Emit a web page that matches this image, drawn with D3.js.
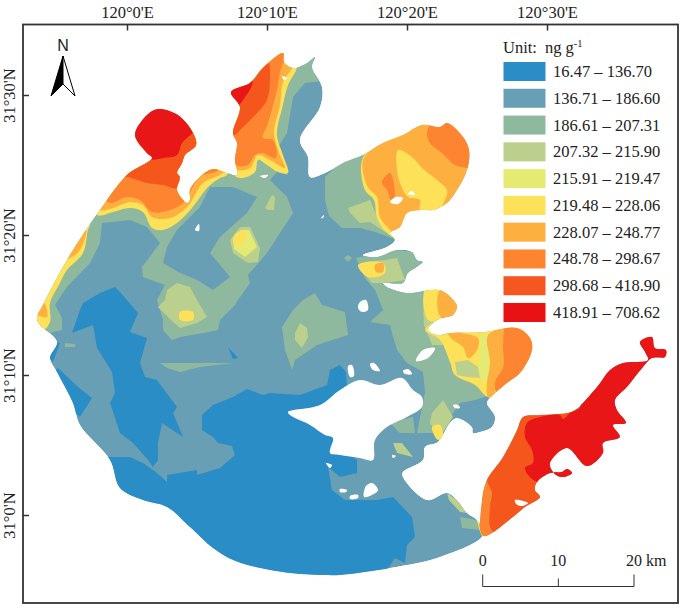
<!DOCTYPE html>
<html>
<head>
<meta charset="utf-8">
<script src="https://cdnjs.cloudflare.com/ajax/libs/d3/7.8.5/d3.min.js"></script>
<style>
  html, body { margin: 0; padding: 0; background: #fff; }
  svg { display: block; }
  text { font-family: "Liberation Serif", serif; fill: #222; }
</style>
</head>
<body>
<svg id="map" width="685" height="611"></svg>
<script>
// legend classes, ng g-1
var classLabels = ["16.47 – 136.70", "136.71 – 186.60", "186.61 – 207.31", "207.32 – 215.90", "215.91 – 219.47",
  "219.48 – 228.06", "228.07 – 248.77", "248.78 – 298.67", "298.68 – 418.90", "418.91 – 708.62"];
var classColors = ["#2b8dc5", "#679fb5", "#8fb99f", "#bbd08d", "#e4ea72", "#fde158", "#fdb03f", "#fd8530", "#f4571f", "#e81215"];

// graticule, minutes east of 120°E and north of 31°N
var lonTicks = [0, 10, 20, 30];
var lonLabels = ["120°0'E", "120°10'E", "120°20'E", "120°30'E"];
var latTicks = [0, 10, 20, 30];
var latLabels = ["31°0'N", "31°10'N", "31°20'N", "31°30'N"];
var kmTicks = [0, 10, 20];

// all outlines below are [minutes E, minutes N]
var lake = [[-6.43,13.93],[-5.93,15.14],[-4.29,18.21],[-2.79,20.57],[-1.93,21.79],[0,24.29],[1.79,25.5],[1.43,25.86],[.57,27.14],[1.43,28.57],[2.21,29],[3.64,28.57],[4.71,27.29],[4.93,26.43],[4.14,25.71],[3.93,25.14],[3.57,24.43],[3.79,24.14],[3.57,23.21],[4.29,22.29],[4.5,22.5],[4.5,23.21],[5.21,24.14],[6.14,24.71],[7.14,24.43],[7.86,24.29],[7.71,25.36],[7.86,26.57],[7.57,27.29],[8.07,29.14],[7.43,30.21],[8.79,30.86],[9.71,31.93],[11.14,33],[11.21,32.36],[11.86,31.93],[12.86,32.29],[13.43,32.71],[13.21,32],[13.93,30.57],[13.79,29.14],[12.36,26.79],[12.93,25.57],[13.07,24.14],[14.14,24.43],[15.57,25.21],[16.86,25.71],[18.29,26.57],[19.71,27.14],[21.07,27.86],[22.36,27.71],[22.86,28],[24,27],[24.43,26.07],[24.29,24.64],[23.57,23.21],[22.86,22.29],[21.86,21.79],[20.93,21.79],[20,21.57],[19.5,20.57],[18.79,20.14],[19.14,19.64],[18.57,19.14],[16.86,18.57],[17.86,18.43],[19.29,18.93],[20.36,18.79],[20.71,18.21],[21.14,18.07],[20.71,17.71],[20.07,17.29],[19.71,16.57],[18.29,16.57],[18.57,16.29],[20,15.86],[22.36,16.07],[23.43,15.21],[23.57,14.86],[23.29,14.29],[22.14,13.93],[21.5,13.21],[22.14,12.86],[23.07,13],[25.43,13.07],[27.86,13.36],[28.79,12.64],[28.93,11.79],[28.07,10.14],[27.14,9.43],[25.93,8.36],[25.71,8],[26.29,7],[26.07,6.29],[25.21,5.93],[24.71,5.86],[24.64,6.29],[23.57,6.93],[23.07,6.57],[22.21,5.21],[21.29,4.86],[21.14,3.93],[19.71,3.07],[19.71,2.71],[21.43,1.07],[22.86,1.57],[23.57,1.07],[24.29,.14],[25,-.36],[25.43,-1.43],[22.36,-3],[18.79,-3.79],[15.21,-4.29],[14.29,-4.29],[11.64,-4.14],[7.93,-3.36],[6.14,-2.36],[4.5,-.86],[2.86,.57],[1.14,1.07],[-.5,1.93],[-1.21,3.93],[-3.36,6.43],[-3.86,8],[-5,10.21],[-5.5,11.21],[-5,12.36]];
var peninsula = [[25.43,-1.5],[25.36,1.07],[25.71,2.5],[26.86,4.14],[27.86,6.07],[28.29,7],[29.5,7.14],[31.43,7.29],[32,7.5],[33.57,9.14],[34.5,10.36],[35.43,10.86],[37.21,11.07],[37,11.64],[36.64,12.36],[37.5,12.71],[37.71,11.93],[38.5,11.79],[38.43,11.29],[37.5,11.21],[36.86,10.57],[35.71,9.14],[34.86,8.21],[35,7.5],[35.64,6.57],[34.71,6.43],[35.21,5.57],[34,5.14],[34,4.43],[32.86,3.5],[31.43,4.79],[30.21,3.71],[30.43,3.07],[31.07,2.71],[31.79,3],[31.43,3.29],[31.07,3.07],[30.21,3],[29.29,2.36],[29.14,1.79],[29.5,1.29],[28.43,.57],[27.57,-.14]];

var islands = [
  [[11.5,7.36],[13.79,7.86],[15.21,8.93],[16.64,9.64],[18.07,9.29],[19.64,9.79],[20.43,8.93],[21.07,8.43],[21.07,7.71],[20,7],[18.57,6.29],[17.71,5.36],[17.57,3.93],[16.64,4.07],[15.21,4.29],[14.5,4.43],[14.71,5.5],[14.14,5.71],[13.07,6.43],[11.64,7.14]],
  [[16.64,15.21],[17.07,15.36],[17.21,14.64],[16.79,14.5],[16.5,14.79]],
  [[20.64,11],[21.14,11.79],[22,11.93],[21.5,11.21]],
  [[15.79,10.64],[16.07,10.71],[16.21,9.93],[15.93,9.86]],
  [[17.36,10.79],[17.64,10.86],[18.07,10.29],[17.57,10.36]],
  [[19.71,10.29],[20.07,10.43],[20.36,10.07],[19.86,10.07]],
  [[23.29,7.86],[23.64,7.86],[23.79,7.64],[23.43,7.64]],
  [[16.93,1.29],[17.07,2.07],[17.5,2.29],[17.93,1.79],[17.5,1.43]],
  [[15.21,1.86],[15.71,1.79],[15.64,1.64],[15.21,1.64]],
  [[15.93,1.36],[16.5,1.43],[16.5,1.21],[15.93,1.14]],
  [[27.71,1.07],[28.64,.86],[28.21,.64],[27.79,.79]],
  [[18.79,22.36],[19.21,22.71],[19.71,22.64],[19.36,22.21]],
  [[20.07,22.93],[20.36,23.14],[20.57,22.86]],
  [[4.86,20.36],[5.14,20.79],[5.14,20.29]],
  [[13.86,21.21],[14.07,21.43],[14,21.21]],
  [[11.07,31.36],[11.43,31.21],[11.21,31.07]],
  [[9.5,24.21],[10.07,24.29],[9.86,24.07]],
  [[14.21,3.71],[14.64,3.57],[14.5,3.36]],
  [[18.93,4.29],[19.21,4.21],[19,4.07]]
];

var band1 = [
  [[-1.93,4.14],[.21,4.14],[1.14,3.71],[2.14,3],[2.86,2.36],[2.86,2.86],[5,3.21],[5,2.86],[6.64,3.36],[7.71,4.29],[7.5,4.93],[6.5,5.14],[6.14,5.57],[5.36,6.07],[5.36,7.14],[6.14,7.86],[7.57,8.43],[8.57,9],[9.71,8.57],[10.21,8.71],[12.36,8.57],[14.29,9.29],[14.5,10.36],[15.21,10.71],[15.64,10.21],[15.71,9.29],[15.57,6.79],[15.93,4.29],[16.43,3.93],[16.43,3],[15.21,2.71],[14.36,3.43],[14.64,1.79],[15.57,1.07],[17.86,1.07],[19,1.29],[20.36,-.14],[20.57,-1.57],[20,-2.14],[19.86,-3.43],[19.14,-3.07],[18.57,-3.93],[15.21,-5.36],[-1.93,-5.36]],
  [[-3.93,13],[-3.36,14.64],[-3.14,15.14],[-1.93,15.86],[-.86,16.29],[-.5,15.93],[.79,14.43],[.21,13.07],[1.43,12.64],[.93,10.86],[1.29,9.86],[2.14,9.64],[3.57,7.71],[3.29,7.29],[4,5.57],[2.5,6.57],[2.21,5.14],[2.21,3.93],[1.86,3.43],[1.5,3.93],[.43,5.14],[-.5,5.86],[-1.21,8],[-.86,8.71],[-1.07,10.21],[-2.14,11.93],[-2.43,13.57]],
  [[-4.93,10.5],[-3.5,9.14],[-2.5,8.36],[-3.36,7],[-4.79,8.21],[-5.5,10]],
  [[-5.14,12.36],[-4.79,12.29],[-5.29,10.93],[-5.64,11.29]],
  [[7.21,12],[7.93,11.21],[7.57,11.14]]
];
var band3 = [
  [[-4.64,13.21],[-4.64,14.07],[-5.14,15],[-4.29,16.29],[-2.64,18],[-1.93,19.43],[-1.79,20.86],[.21,21.07],[1.43,20.57],[2.36,19.43],[1.07,17.71],[1.14,17],[2.71,16.43],[2.14,15.36],[2.57,13.93],[2.57,13.21],[3.21,12.5],[3.79,12.71],[5.43,13],[6.5,13.21],[6.64,13.93],[7.71,15],[7.93,15.36],[8.79,16.57],[8.64,17.14],[10,18.71],[11.86,21.57],[11.43,22.71],[10.21,23.93],[10.71,24.5],[11.5,24.29],[10.93,25.36],[10.79,26.29],[11.43,27.29],[11.86,29.86],[12.71,30.86],[14.5,31.07],[14.5,33.93],[-7.64,33.93],[-7.64,12.5]],
  [[11.07,13.43],[11.86,14.64],[12.57,15.36],[13.43,15.86],[13.93,15],[15.57,14.5],[15.79,12.86],[13.57,12.14],[12,11.07],[11.79,10.36],[11.29,11.79]],
  [[2.36,10.86],[7.57,10.86],[5.21,10.57],[3.79,10.21],[2.86,10.5]],
  [[-4.43,12.29],[-3.71,12.21],[-3.71,12],[-4.43,12]],
  [[15.57,25.5],[14.14,24.14],[14.14,22.5],[14.43,21.36],[15.36,20.5],[16.64,20.5],[17.71,20.21],[18.93,19.79],[19.5,19.79],[19.5,22.5],[18.43,26.79]],
  [[15.79,18.57],[16.07,18.36],[15.79,18.07],[15.5,18.36]],
  [[16.36,18.36],[19.14,18.93],[20.57,18.79],[21.14,18.07],[20.21,17.29],[20.07,15.93],[19.14,15.71],[17.71,16.07],[17,16.93]],
  [[17.64,16.29],[18.29,14.64],[17.36,13.79],[18.79,13.57],[18.93,13],[19.29,11.79],[20,10.86],[21.14,10.21],[21.29,8.79],[20.71,5.86],[21.86,5.86],[22.36,6.43],[23.21,7.14],[23.79,8],[24.86,8.21],[25.93,8.57],[25.21,10.36],[23.43,11.79],[22.36,13.93],[21.86,16.07]],
  [[18.79,6.57],[20.43,7],[20.57,5.86],[19.5,5.86]],
  [[23.79,-.14],[25,-.36],[25.21,-1.07],[23.93,-.93]]
];
// patches of the second class lying inside the third
var band2Over = [
  [[5.93,23.43],[7.57,23.43],[9.29,22.71],[8.57,21.57],[6.64,19.86],[5.93,18.71],[7.36,17],[6.14,16.07],[5,16.79],[3.79,17.29],[2.57,18],[2.86,19.14],[3.57,20.36],[5.21,22]],
  [[23.79,8],[24.71,8.07],[25.43,7.5],[25.71,6.64],[25.43,6.07],[24.86,5.86],[24.64,6.29],[23.43,6.93]]
];
var band4 = [
  [[2.86,16.07],[3.57,16.57],[4.5,16.29],[5,15.36],[5.71,14.14],[5,13.71],[3.79,13.36],[3.29,13.79],[2.21,14.86],[2.71,15.36]],
  [[7.36,19.64],[8.07,20.57],[8.79,20.57],[9.5,19.07],[9.36,18.07],[8.64,18],[7.57,18.71]],
  [[9.86,21.93],[10.36,22.86],[10.57,22.71],[10.5,21.79],[10.07,21.79]],
  [[12,13],[12.36,13.71],[12.86,13.36],[12.93,12.71],[12.5,11.93],[12,12.5]],
  [[15.79,21.93],[16.79,22.29],[17.36,22.5],[17.86,21.29],[18.64,20.57],[18.43,20.21],[17.36,20.93],[16.64,20.86],[15.93,21.57]],
  [[16.93,18.07],[18.43,18.21],[19.29,18.36],[19.86,16.79],[18.43,16.57],[17.5,16.57],[17,17.14]],
  [[21.14,15.36],[21.21,13.57],[21.79,12.14],[22.71,12.14],[22.36,13.93],[21.86,15.36]],
  [[21.79,7.29],[22.57,8.21],[23.29,7],[22.36,5.57],[21.64,6.57]],
  [[19,5.14],[19.64,5.14],[20.43,4.14],[19.29,4.43]],
  [[22.86,1.57],[23.57,1.07],[24.29,.14],[23.79,.21],[23,1.07]]
];
var band5 = [
  [[7.57,19.64],[8.14,20.36],[8.71,20.36],[9.29,19.14],[8.43,18.43],[7.64,19]]
];
var band6 = [
  [[-2.79,20.36],[-3.14,18.71],[-4.29,17.5],[-4.79,16.57],[-5.5,15.14],[-5.5,13.79],[-6,13.21],[-6.93,13.93],[-5.5,18.93],[-2.64,20.71]],
  [[-2.14,21.43],[-1,21.64],[.21,21.93],[1.14,21.64],[1.79,20.5],[2.57,20.36],[3.57,20.86],[4.64,21.93],[5.79,23.43],[6.64,24.07],[7.14,24.29],[7.36,25],[3.71,28.21],[-2.64,23.93]],
  [[12.14,32.14],[11.5,30.71],[11.14,29.29],[10.71,27.14],[11.14,25.71],[11.5,24.43],[10.79,24.5],[10,25],[9.36,25.36],[9.14,24.5],[8.07,24.07],[7.36,24.64],[7.36,32.5],[11.29,33.21]],
  [[3.79,14.5],[4.71,14.5],[4.71,13.93],[3.79,13.93]],
  [[7.57,19.79],[8.07,20.29],[8.5,20.21],[8.29,19.43],[7.71,19.29]],
  [[18.07,26.79],[16.79,25.36],[17,23.21],[17.64,22.5],[17.86,21.21],[18.5,20.21],[19.5,19.64],[20.93,20.71],[20.93,27.5]],
  [[16.5,17.86],[18.29,18],[18.43,17.29],[17.21,17]],
  [[21.29,16.07],[22.36,16.07],[22.36,13.93],[21.5,13.93]],
  [[21.29,13.21],[22.36,12.5],[23.07,10.93],[23.43,10],[24.86,9.29],[25.93,8.36],[29.5,8.93],[29.5,13.93],[22.36,13.93]],
  [[21.79,6.29],[22.36,6.43],[22.57,5.57],[22.21,5.36]],
  [[25,-.36],[25.64,-1.5],[25.43,-1.57]]
];
// stripes and patches lying on top of the yellow lobe
var band5Over = [
  [[25.21,12.86],[25.79,13],[25.93,11.43],[25.93,10],[25.43,9.29],[25.07,10.57],[25.21,11.79]]
];
var band4Over = [
  [[23.43,10.93],[24.36,11.07],[25.07,10.57],[25.21,9.79],[24.29,9.86],[23.57,10]]
];
var band7 = [
  [[-1.93,21.79],[-1,21.93],[.21,22.36],[1.14,22.14],[1.79,21.29],[3.07,21.21],[4.29,22],[5.43,23.71],[6.64,24.29],[7,24.64],[3.71,28.21],[-2.64,23.21]],
  [[-2.93,20.36],[-3.36,18.93],[-3.93,18.43],[-4.79,18.21],[-3.36,20.5]],
  [[-5.93,15.14],[-5.71,14.14],[-6.21,14.21],[-6.64,14.64]],
  [[11.86,32.14],[11.14,30.93],[10.93,29.29],[10.5,27.29],[10.93,25.71],[11.29,24.79],[10.21,25.36],[9.36,25.71],[8.79,24.79],[7.86,24.64],[7.36,25],[7.36,32.5],[11.29,33.21]],
  [[18.29,26.79],[16.86,25.36],[17.21,23.43],[17.86,22.71],[18.07,21.29],[18.79,20.36],[19.14,20],[20.93,21.07],[25,22.5],[25,28.93],[20.93,28.93]],
  [[17.71,17.86],[18.29,18],[18.29,17.36],[17.79,17.36]],
  [[22.36,16.07],[23.64,15.36],[23.64,14.07],[22.36,14.21]],
  [[22.93,13],[25.07,12.64],[25,11.79],[24.36,11.21],[24,12],[23.29,12.5]],
  [[25.79,12.86],[27.21,13.36],[26.86,12.14],[26.86,10.57],[26.29,9.43],[26.29,8.57],[25.79,8.43],[25.71,9.43],[25.93,10.86]]
];
// yellow heart of the north-east lobe
var band6Over = [
  [[19.36,26.07],[20.36,25.57],[21.07,24.79],[22.14,23.93],[22.86,23.21],[22.71,22.5],[22,21.43],[20.93,21.79],[20.93,22.5],[20.07,22.71],[19.5,23.71],[19.29,24.64]]
];
var band8 = [
  [[-1.21,22.29],[0,22.71],[.93,22.5],[1.79,21.64],[3.07,21.79],[4,22.29],[5.21,24.14],[6.5,24.64],[6.29,25.36],[3.71,28.21],[-1.93,23.21]],
  [[11.29,33.21],[10.93,31.64],[10.71,30.36],[10.07,28],[9.71,26.93],[10.43,26.79],[10.64,25.5],[9.64,25.86],[9.14,25.71],[8.64,25],[7.79,25],[7.36,27.5],[7.36,32.5]],
  [[18.21,23.79],[18.79,24.43],[19.14,23],[18.93,22.36],[18.57,23.21]],
  [[21.43,27.36],[22,28.21],[24.86,27.86],[24.86,24.64],[24.29,24.79],[23.43,25],[22.5,25.86],[21.64,26.57]],
  [[27.14,13.57],[29.5,13.57],[29.5,10.36],[27.36,8.57],[26.43,8.71],[26.29,9.5],[26.86,10.57],[26.86,12.14]],
  [[25.43,-1.5],[25.14,1.07],[25.71,2.64],[26.07,1.57],[25.93,.57],[26.14,-1.21]]
];
var band9 = [
  [[-.5,24.07],[0,24.14],[1.43,23.71],[2.57,23.57],[3.57,23.36],[3.93,25],[5.21,26.07],[5.21,27.5],[.93,26.07]],
  [[7,27.5],[7,30.71],[9.14,31.79],[10.07,32.36],[10.21,31.07],[10,29.64],[9.29,28.71],[8.29,27.71],[7.64,27.14]],
  [[26.14,-1.21],[25.93,.57],[26.07,1.57],[25.71,2.64],[26.79,4.29],[27.71,6.21],[28.07,7.5],[32,7.86],[31.64,-1.79]]
];
var band10 = [
  [[.21,27.5],[1.64,29.64],[5.21,29.64],[4.79,27.43],[4.36,27],[3.93,26.57],[3.57,25.71],[2.57,25.5],[1.64,25.43]],
  [[7,30.71],[8.93,31.07],[8.93,30.71],[8.29,29.64],[7.93,29.21],[7.36,28.93]],
  [[28.57,6.57],[29.5,7],[30.93,7.14],[31.14,6.86],[31.64,7.29],[32.36,7.71],[33,15],[39.5,15],[39.5,2.5],[29.29,2.36],[28.43,3.36],[29,3.71],[28.93,4.64],[28.43,5.57]]
];

var svg = d3.select("#map");

var x = d3.scaleLinear().domain([0, 30]).range([127, 547]);
var y = d3.scaleLinear().domain([0, 30]).range([515, 95]);
var km = d3.scaleLinear().domain([0, 20]).range([482.7, 634]);

// shores and the coastal bands are smooth, the open-water bands keep their corners
var outline = d3.line()
  .x(function(d) { return x(d[0]); })
  .y(function(d) { return y(d[1]); })
  .curve(d3.curveCatmullRomClosed.alpha(0.5));
var angular = d3.line()
  .x(function(d) { return x(d[0]); })
  .y(function(d) { return y(d[1]); })
  .curve(d3.curveLinearClosed);

var defs = svg.append("defs");
defs.append("clipPath").attr("id", "shore").selectAll("path")
  .data([lake, peninsula]).enter().append("path").attr("d", outline);
defs.append("filter").attr("id", "soft").append("feGaussianBlur").attr("stdDeviation", 0.4);

var map = svg.append("g").attr("filter", "url(#soft)");
var water = map.append("g").attr("clip-path", "url(#shore)");

// painted bottom to top, each entry is [class index, outlines, line generator]
var layers = [[1, [lake, peninsula], outline], [0, band1, angular], [2, band3, angular], [1, band2Over, angular],
  [3, band4, angular], [4, band5, angular], [5, band6, outline], [4, band5Over, angular], [3, band4Over, angular],
  [6, band7, outline], [5, band6Over, outline], [7, band8, outline], [8, band9, outline], [9, band10, outline]];

layers.forEach(function(layer) {
  water.append("g").attr("fill", classColors[layer[0]]).selectAll("path")
    .data(layer[1]).enter().append("path").attr("d", layer[2]);
});

map.append("g").attr("fill", "#fff").selectAll("path")
  .data(islands).enter().append("path").attr("d", outline);

// frame and graticule ticks
var frame = { left: 23, top: 24.5, right: 678, bottom: 603 };
svg.append("rect")
  .attr("x", frame.left).attr("y", frame.top)
  .attr("width", frame.right - frame.left).attr("height", frame.bottom - frame.top)
  .attr("fill", "none").attr("stroke", "#333").attr("stroke-width", 1.8);

var topAxis = svg.append("g").attr("transform", "translate(0," + frame.top + ")")
  .call(d3.axisTop(x).tickValues(lonTicks).tickSize(-6).tickPadding(7)
    .tickFormat(function(d, i) { return lonLabels[i]; }));
topAxis.select(".domain").remove();
topAxis.selectAll("line").attr("stroke", "#333").attr("stroke-width", 1.5);
topAxis.selectAll("text").attr("font-size", 16.5).attr("font-family", "Liberation Serif").attr("fill", "#222");

var leftAxis = svg.append("g").attr("transform", "translate(" + frame.left + ",0)")
  .call(d3.axisLeft(y).tickValues(latTicks).tickSize(-6)
    .tickFormat(function(d, i) { return latLabels[i]; }));
leftAxis.select(".domain").remove();
leftAxis.selectAll("line").attr("stroke", "#333").attr("stroke-width", 1.5);
leftAxis.selectAll("text").attr("font-size", 16.5).attr("font-family", "Liberation Serif").attr("fill", "#222")
  .attr("x", 0).attr("dy", 0).attr("text-anchor", "middle")
  .attr("transform", "translate(-8,0) rotate(-90)");

// north arrow
var arrow = svg.append("g").attr("transform", "translate(63,55)");
arrow.append("path").attr("d", "M0,1L-12,41L0,29Z").attr("fill", "#000").attr("stroke", "#000");
arrow.append("path").attr("d", "M0,1L12,41L0,29Z").attr("fill", "#fff").attr("stroke", "#000");
svg.append("text").attr("x", 63).attr("y", 51).attr("text-anchor", "middle")
  .attr("font-size", 16).style("font-family", "Liberation Sans").text("N");

// legend
var legend = svg.append("g");
var unit = legend.append("text").attr("x", 503).attr("y", 53).attr("font-size", 16.5);
unit.append("tspan").text("Unit:");
unit.append("tspan").attr("dx", 8).text("ng g");
unit.append("tspan").attr("font-size", 10.5).attr("dy", -6).text("-1");

var swatchY = d3.scaleLinear().domain([0, 9]).range([62, 303]);
legend.selectAll("rect").data(classColors).enter().append("rect")
  .attr("x", 503.5).attr("y", function(d, i) { return swatchY(i); })
  .attr("width", 42).attr("height", 19)
  .attr("fill", function(d) { return d; });
legend.selectAll("text.cls").data(classLabels).enter().append("text")
  .attr("class", "cls")
  .attr("x", 553).attr("y", function(d, i) { return swatchY(i) + 15; })
  .attr("font-size", 16.5)
  .text(function(d) { return d; });

// scale bar
var barY = 586.5;
var bar = svg.append("g").attr("fill", "none").attr("stroke", "#333").attr("stroke-width", 1);
bar.append("line").attr("x1", km(0)).attr("x2", km(20)).attr("y1", barY).attr("y2", barY);
bar.selectAll("line.tick").data(kmTicks).enter().append("line")
  .attr("class", "tick")
  .attr("x1", function(d) { return km(d); }).attr("x2", function(d) { return km(d); })
  .attr("y1", barY).attr("y2", function(d) { return d === 10 ? barY - 8 : barY - 12; });
svg.selectAll("text.km").data(kmTicks).enter().append("text")
  .attr("class", "km")
  .attr("x", function(d) { return d === 20 ? km(d) - 8 : km(d); })
  .attr("y", 566)
  .attr("text-anchor", function(d) { return d === 20 ? "start" : "middle"; })
  .attr("font-size", 16)
  .text(function(d) { return d === 20 ? "20 km" : d; });
</script>
</body>
</html>
